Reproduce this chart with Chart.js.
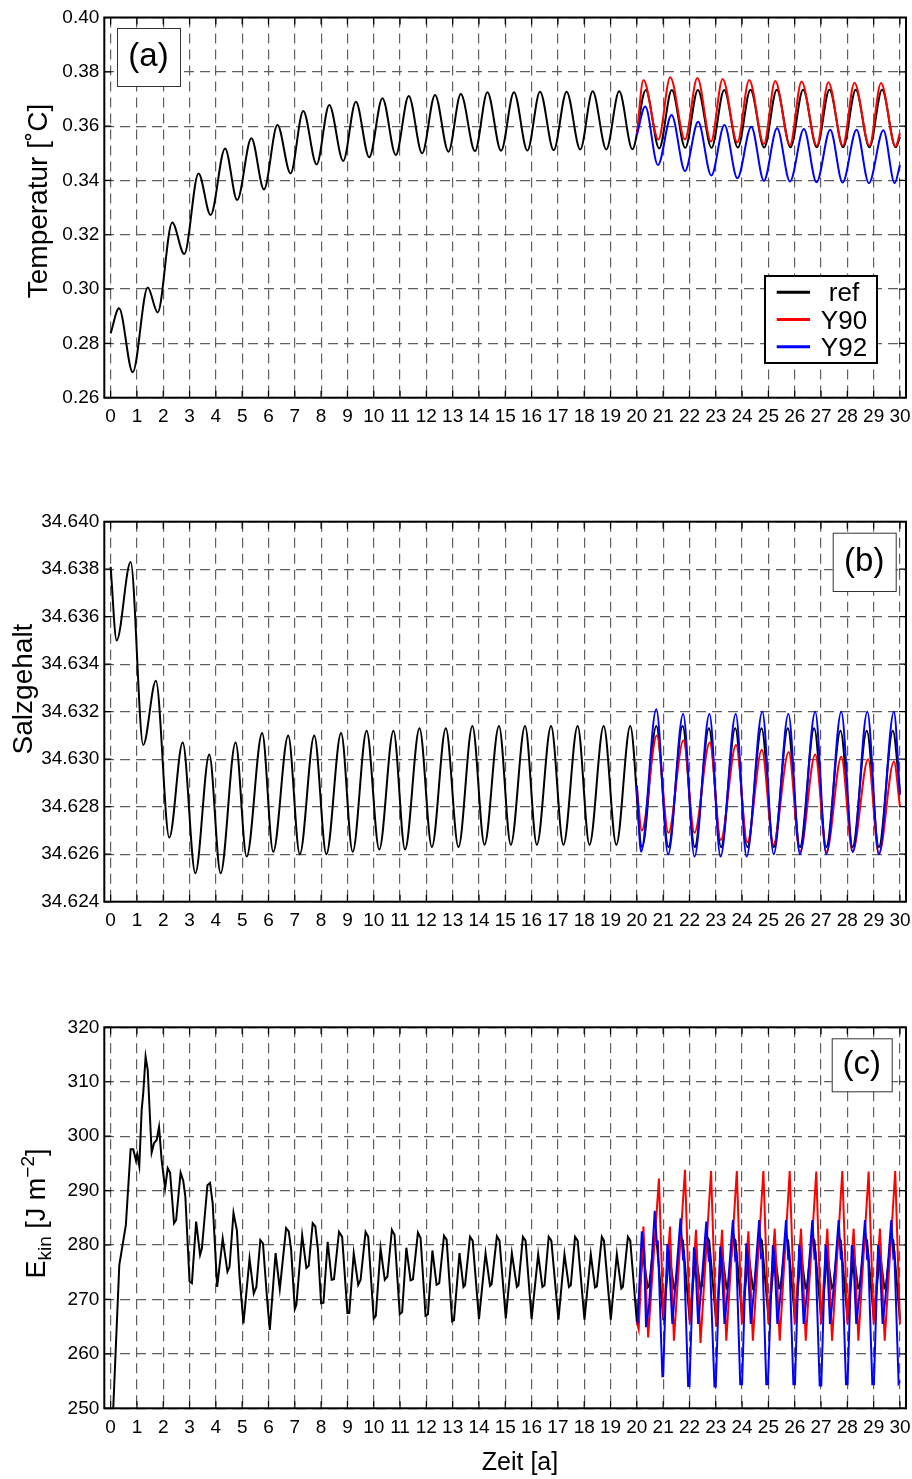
<!DOCTYPE html>
<html>
<head>
<meta charset="utf-8">
<script src="https://cdn.jsdelivr.net/npm/chart.js@4.4.0/dist/chart.umd.min.js"></script>
<style>
  body { margin: 0; background: #fff; width: 912px; height: 1479px; position: relative; overflow: hidden; }
  canvas { position: absolute; left: 0; }
</style>
</head>
<body>
<canvas id="cTemp" width="912" height="440" style="top:0"></canvas>
<canvas id="cSalt" width="912" height="440" style="top:500px"></canvas>
<canvas id="cEkin" width="912" height="469" style="top:1010px"></canvas>
<script>
const FONT = "'Liberation Sans', Arial, Helvetica, sans-serif";

// Zeitachse in Jahren
const years = [0, 1, 2, 3, 4, 5, 6, 7, 8, 9, 10, 11, 12, 13, 14, 15, 16, 17, 18, 19, 20,
  21, 22, 23, 24, 25, 26, 27, 28, 29, 30];
const tempTicks = [0.26, 0.28, 0.30, 0.32, 0.34, 0.36, 0.38, 0.40];
const saltTicks = [34.624, 34.626, 34.628, 34.630, 34.632, 34.634, 34.636, 34.638, 34.640];
const ekinTicks = [250, 260, 270, 280, 290, 300, 310, 320];

const runNames = ['ref', 'Y90', 'Y92'];
const runColors = ['#000000', '#ff0000', '#0000ff'];

// Temperatur [°C], Paare [Jahr, Wert]
const tempRef = [[0.00,0.2837],[0.32,0.2929],[0.84,0.2694],[1.41,0.3006],[1.79,0.2914],[2.34,0.3245],
  [2.80,0.3129],[3.34,0.3426],[3.80,0.3273],[4.35,0.3518],[4.81,0.3328],[5.35,0.3555],[5.83,0.3367],
  [6.34,0.3604],[6.84,0.3426],[7.32,0.3656],[7.83,0.3459],[8.31,0.3678],[8.84,0.3472],[9.32,0.3690],
  [9.83,0.3485],[10.33,0.3703],[10.84,0.3494],[11.33,0.3711],[11.84,0.3500],[12.33,0.3715],
  [12.84,0.3506],[13.31,0.3718],[13.85,0.3508],[14.32,0.3725],[14.84,0.3509],[15.33,0.3725],
  [15.84,0.3510],[16.32,0.3727],[16.84,0.3511],[17.33,0.3727],[17.85,0.3514],[18.32,0.3728],
  [18.84,0.3514],[19.33,0.3728],[19.83,0.3515],[20.34,0.3733],[20.85,0.3518],[21.33,0.3733],
  [21.84,0.3520],[22.32,0.3733],[22.84,0.3520],[23.32,0.3733],[23.84,0.3521],[24.32,0.3734],
  [24.84,0.3521],[25.32,0.3734],[25.84,0.3522],[26.32,0.3734],[26.84,0.3522],[27.32,0.3734],
  [27.84,0.3522],[28.32,0.3734],[28.84,0.3522],[29.32,0.3734],[29.84,0.3522],[30.00,0.3560]];
const tempY90 = [[20.00,0.3567],[20.25,0.3770],[20.82,0.3551],[21.27,0.3780],[21.83,0.3551],
  [22.30,0.3777],[22.82,0.3543],[23.26,0.3774],[23.82,0.3540],[24.27,0.3770],[24.83,0.3534],
  [25.26,0.3766],[25.82,0.3530],[26.26,0.3764],[26.84,0.3528],[27.28,0.3762],[27.83,0.3528],
  [28.27,0.3760],[28.84,0.3528],[29.28,0.3759],[29.83,0.3525],[30.00,0.3574]];
const tempY92 = [[20.00,0.3567],[20.32,0.3672],[20.80,0.3457],[21.32,0.3641],[21.83,0.3435],
  [22.33,0.3616],[22.83,0.3418],[23.33,0.3604],[23.82,0.3408],[24.35,0.3598],[24.83,0.3399],
  [25.33,0.3592],[25.82,0.3396],[26.35,0.3589],[26.83,0.3393],[27.35,0.3587],[27.82,0.3392],
  [28.35,0.3587],[28.82,0.3390],[29.37,0.3585],[29.80,0.3390],[30.00,0.3457]];

// Salzgehalt
const saltRef = [[0.00,34.6381],[0.23,34.6350],[0.76,34.6383],[1.24,34.6306],[1.72,34.6333],
  [2.23,34.6267],[2.74,34.6307],[3.22,34.6252],[3.75,34.6302],[4.18,34.6252],[4.75,34.6307],
  [5.17,34.6259],[5.76,34.6311],[6.18,34.6261],[6.75,34.6310],[7.19,34.6260],[7.74,34.6310],
  [8.20,34.6260],[8.76,34.6311],[9.20,34.6261],[9.73,34.6312],[10.21,34.6262],[10.75,34.6312],
  [11.19,34.6262],[11.74,34.6313],[12.21,34.6263],[12.74,34.6313],[13.22,34.6263],[13.75,34.6314],
  [14.21,34.6264],[14.76,34.6314],[15.21,34.6264],[15.75,34.6314],[16.20,34.6264],[16.74,34.6314],
  [17.21,34.6264],[17.75,34.6314],[18.20,34.6264],[18.74,34.6314],[19.22,34.6264],[19.75,34.6314],
  [20.20,34.6263],[20.74,34.6314],[21.20,34.6263],[21.74,34.6314],[22.20,34.6263],[22.74,34.6313],
  [23.20,34.6263],[23.74,34.6313],[24.20,34.6263],[24.74,34.6313],[25.20,34.6263],[25.74,34.6313],
  [26.20,34.6263],[26.74,34.6313],[27.20,34.6263],[27.74,34.6312],[28.20,34.6263],[28.74,34.6312],
  [29.20,34.6263],[29.73,34.6312],[30.00,34.6286]];
const saltY90 = [[20.00,34.6288],[20.19,34.6270],[20.76,34.6310],[21.20,34.6269],[21.77,34.6308],
  [22.19,34.6269],[22.77,34.6307],[23.19,34.6266],[23.77,34.6306],[24.20,34.6265],[24.75,34.6304],
  [25.19,34.6264],[25.77,34.6303],[26.20,34.6261],[26.78,34.6302],[27.21,34.6261],[27.77,34.6301],
  [28.20,34.6261],[28.79,34.6300],[29.20,34.6260],[29.77,34.6299],[30.00,34.6280]];
const saltY92 = [[20.00,34.6289],[20.16,34.6261],[20.74,34.6321],[21.19,34.6260],[21.76,34.6319],
  [22.19,34.6259],[22.76,34.6319],[23.18,34.6259],[23.76,34.6319],[24.17,34.6259],[24.77,34.6320],
  [25.20,34.6260],[25.76,34.6319],[26.20,34.6260],[26.78,34.6320],[27.20,34.6260],[27.77,34.6320],
  [28.21,34.6261],[28.76,34.6320],[29.20,34.6260],[29.77,34.6320],[30.00,34.6285]];

// kinetische Energie [J m^-2]
const ekinRef = [[0.00,238.5],[0.33,276.3],[0.58,283.7],[0.76,297.6],[0.86,297.6],[0.96,295.6],
  [1.01,296.7],[1.09,294.5],[1.18,304.8],[1.24,307.9],[1.33,314.6],[1.41,312.2],[1.56,297.0],
  [1.65,298.7],[1.75,299.3],[1.84,301.7],[1.94,295.6],[2.07,290.4],[2.17,294.1],[2.26,293.3],
  [2.41,284.0],[2.49,284.6],[2.66,293.3],[2.76,291.8],[2.84,288.9],[3.00,273.3],[3.09,273.0],
  [3.25,284.3],[3.40,278.2],[3.47,279.4],[3.68,291.0],[3.78,291.4],[3.88,287.6],[4.05,272.3],
  [4.26,281.2],[4.44,275.1],[4.52,276.0],[4.67,285.9],[4.80,282.7],[4.90,274.2],[5.05,265.6],
  [5.28,277.5],[5.44,271.1],[5.54,272.3],[5.69,280.9],[5.79,280.3],[5.95,269.9],[6.05,264.4],
  [6.27,278.5],[6.43,271.9],[6.67,283.1],[6.77,282.5],[6.86,279.2],[7.00,268.2],[7.06,269.0],
  [7.28,281.8],[7.44,275.8],[7.53,276.2],[7.68,284.0],[7.78,283.4],[7.88,279.2],[8.00,269.3],
  [8.09,269.4],[8.25,280.6],[8.40,273.6],[8.49,273.7],[8.68,282.4],[8.80,281.5],[9.00,267.5],
  [9.07,267.5],[9.24,278.5],[9.41,272.7],[9.50,273.6],[9.69,282.4],[9.79,281.5],[10.00,266.5],
  [10.08,267.0],[10.26,279.4],[10.42,273.6],[10.52,274.2],[10.69,282.8],[10.79,281.9],[10.99,267.3],
  [11.08,267.7],[11.24,279.5],[11.40,273.5],[11.49,273.7],[11.68,282.3],[11.78,281.3],[11.97,267.0],
  [12.06,267.3],[12.23,279.0],[12.39,272.7],[12.49,273.0],[12.67,281.7],[12.77,281.0],[12.98,266.0],
  [13.05,266.2],[13.26,278.5],[13.41,272.3],[13.47,272.6],[13.66,281.5],[13.76,280.8],[14.00,266.4],
  [14.25,278.5],[14.42,272.5],[14.48,272.8],[14.68,281.6],[14.78,280.8],[15.02,266.5],[15.25,278.5],
  [15.44,272.3],[15.50,272.6],[15.67,281.5],[15.77,280.8],[16.00,266.4],[16.25,278.3],[16.41,272.3],
  [16.49,272.6],[16.65,281.5],[16.75,280.8],[17.02,266.3],[17.25,278.3],[17.42,272.3],[17.49,272.6],
  [17.65,281.5],[17.75,280.8],[18.01,266.3],[18.25,278.3],[18.41,272.2],[18.48,272.4],[18.67,281.5],
  [18.75,280.8],[19.01,266.3],[19.24,278.3],[19.41,272.0],[19.47,272.3],[19.66,281.5],[19.75,280.8],
  [20.00,265.9],[20.23,278.6],[20.41,272.2],[20.47,272.5],[20.66,281.5],[20.75,280.8],[21.01,266.2],
  [21.23,278.5],[21.41,272.1],[21.47,272.4],[21.66,281.5],[21.75,280.8],[22.01,266.2],[22.24,278.5],
  [22.41,272.1],[22.47,272.4],[22.66,281.5],[22.75,280.8],[23.01,266.2],[23.24,278.5],[23.41,272.1],
  [23.47,272.4],[23.66,281.5],[23.75,280.8],[24.01,266.2],[24.24,278.5],[24.41,272.1],[24.47,272.4],
  [24.66,281.5],[24.75,280.8],[25.01,266.2],[25.24,278.5],[25.41,272.1],[25.47,272.4],[25.66,281.5],
  [25.75,280.8],[26.01,266.2],[26.24,278.5],[26.41,272.1],[26.47,272.4],[26.66,281.5],[26.75,280.8],
  [27.01,266.2],[27.24,278.5],[27.41,272.1],[27.47,272.4],[27.66,281.5],[27.75,280.8],[28.01,266.2],
  [28.24,278.5],[28.41,272.1],[28.47,272.4],[28.66,281.5],[28.75,280.8],[29.01,266.2],[29.24,278.5],
  [29.41,272.1],[29.47,272.4],[29.66,281.5],[29.75,280.8],[30.00,266.2]];
const ekinY90 = [[20.00,265.9],[20.07,264.5],[20.25,283.4],[20.43,263.0],[20.84,292.2],[21.01,266.5],
  [21.26,283.4],[21.41,262.4],[21.83,293.8],[22.01,265.5],[22.25,282.8],[22.42,262.0],[22.82,293.6],
  [23.01,265.0],[23.24,282.8],[23.40,262.4],[23.80,293.6],[23.99,265.5],[24.24,282.5],[24.41,262.4],
  [24.81,293.6],[25.00,265.5],[25.24,283.0],[25.43,262.4],[25.81,293.6],[26.00,265.5],[26.24,283.0],
  [26.42,262.4],[26.82,293.5],[27.00,265.5],[27.24,283.0],[27.42,262.4],[27.81,293.6],[28.00,265.5],
  [28.24,283.0],[28.42,262.4],[28.81,293.5],[29.00,265.5],[29.24,283.0],[29.42,262.4],[29.82,293.6],
  [30.00,265.5]];
const ekinY92 = [[20.00,265.9],[20.03,265.8],[20.19,282.5],[20.28,278.1],[20.35,264.9],[20.47,269.2],
  [20.68,286.3],[20.76,280.3],[20.80,280.5],[20.97,255.9],[21.00,255.9],[21.16,280.2],[21.22,277.5],
  [21.35,265.5],[21.44,271.0],[21.66,284.9],[21.75,277.8],[21.79,278.3],[21.95,254.1],[22.00,254.1],
  [22.17,279.6],[22.22,277.5],[22.33,265.5],[22.42,270.4],[22.64,284.3],[22.73,277.5],[22.77,278.0],
  [22.95,254.0],[23.00,254.0],[23.17,279.7],[23.22,277.5],[23.33,265.5],[23.42,269.8],[23.65,284.6],
  [23.74,277.5],[23.78,278.0],[23.93,254.4],[24.00,254.4],[24.16,280.3],[24.21,277.5],[24.33,265.5],
  [24.43,270.4],[24.65,284.6],[24.72,277.8],[24.77,278.2],[24.92,254.4],[24.98,254.4],[25.17,280.0],
  [25.23,277.6],[25.34,265.5],[25.45,270.4],[25.67,284.6],[25.75,277.8],[25.79,278.2],[25.95,254.4],
  [26.01,254.4],[26.17,280.0],[26.23,277.6],[26.34,265.5],[26.45,270.4],[26.67,284.6],[26.75,277.8],
  [26.79,278.2],[26.95,254.2],[27.01,254.2],[27.17,280.0],[27.23,277.6],[27.34,265.5],[27.45,270.4],
  [27.67,284.6],[27.75,277.8],[27.79,278.2],[27.95,254.4],[28.01,254.4],[28.17,280.0],[28.23,277.6],
  [28.34,265.5],[28.45,270.4],[28.67,284.6],[28.75,277.8],[28.79,278.2],[28.95,254.4],[29.01,254.4],
  [29.17,280.0],[29.23,277.6],[29.34,265.5],[29.45,270.4],[29.67,284.6],[29.75,277.8],[29.79,278.2],
  [29.95,254.6],[30.00,255.0]];

Chart.defaults.font.family = FONT;
Chart.defaults.color = '#000';

// Rahmen, innere Ticks, Panel-Kennung, Achsentitel und Legende
const deco = {
  id: 'deco',
  afterDraw(chart, args, o) {
    const { ctx, chartArea: a, scales: { x, y } } = chart;
    ctx.save();

    ctx.strokeStyle = '#000';
    ctx.lineWidth = 1.2;
    ctx.beginPath();
    x.ticks.forEach(t => {
      const px = x.getPixelForValue(t.value);
      ctx.moveTo(px, a.bottom); ctx.lineTo(px, a.bottom - 7);
      ctx.moveTo(px, a.top); ctx.lineTo(px, a.top + 7);
    });
    y.ticks.forEach(t => {
      const py = y.getPixelForValue(t.value);
      ctx.moveTo(a.left, py); ctx.lineTo(a.left + 7, py);
      ctx.moveTo(a.right, py); ctx.lineTo(a.right - 7, py);
    });
    ctx.stroke();
    ctx.lineWidth = 2;
    ctx.strokeRect(a.left, a.top, a.right - a.left, a.bottom - a.top);

    if (o.tag) {
      const [tx, ty, tw, th] = o.tag.box;
      ctx.fillStyle = '#fff';
      ctx.fillRect(tx, ty, tw, th);
      ctx.strokeStyle = '#333';
      ctx.lineWidth = 1;
      ctx.strokeRect(tx + 0.5, ty + 0.5, tw, th);
      ctx.fillStyle = '#000';
      ctx.font = '33px ' + FONT;
      ctx.textAlign = 'center';
      ctx.textBaseline = 'middle';
      ctx.fillText(o.tag.text, tx + tw / 2, ty + th / 2);
    }

    if (o.legend) {
      const [lx, ly, lw, lh] = o.legend;
      ctx.fillStyle = '#fff';
      ctx.fillRect(lx, ly, lw, lh);
      ctx.strokeStyle = '#000';
      ctx.lineWidth = 2;
      ctx.strokeRect(lx, ly, lw, lh);
      ctx.font = '26px ' + FONT;
      ctx.textAlign = 'center';
      ctx.textBaseline = 'middle';
      chart.data.datasets.forEach((ds, i) => {
        const yy = ly + 16.3 + i * 27.2;
        ctx.strokeStyle = ds.borderColor;
        ctx.lineWidth = 3;
        ctx.beginPath();
        ctx.moveTo(lx + 11.7, yy);
        ctx.lineTo(lx + 45, yy);
        ctx.stroke();
        ctx.fillStyle = '#000';
        ctx.fillText(ds.label, lx + 79, yy + 2);
      });
    }

    // Achsentitel links, um 90° gedreht; Teile mit Größe und Versatz (Index/Exponent)
    if (o.ytitle) {
      const t = o.ytitle;
      ctx.translate(t.x, t.y);
      ctx.rotate(-Math.PI / 2);
      ctx.fillStyle = '#000';
      ctx.textAlign = 'left';
      ctx.textBaseline = 'alphabetic';
      let w = 0;
      t.parts.forEach(([s, size]) => { ctx.font = size + 'px ' + FONT; w += ctx.measureText(s).width; });
      let px = -w / 2;
      t.parts.forEach(([s, size, dy]) => {
        ctx.font = size + 'px ' + FONT;
        ctx.fillText(s, px, dy);
        px += ctx.measureText(s).width;
      });
      ctx.setTransform(1, 0, 0, 1, 0, 0);
    }

    if (o.xtitle) {
      ctx.fillStyle = '#000';
      ctx.font = '25px ' + FONT;
      ctx.textAlign = 'center';
      ctx.textBaseline = 'alphabetic';
      ctx.fillText(o.xtitle.text, o.xtitle.x, o.xtitle.y);
    }
    ctx.restore();
  }
};
Chart.register(deco);

function makeChart(id, series, yTicks, yFmt, padTop, xHeight, smooth, decoOpts) {
  const grid = { color: '#5e5e5e', lineWidth: 1.2, drawTicks: false };
  const border = { display: false, dash: [10, 6] };
  return new Chart(document.getElementById(id), {
    type: 'line',
    data: {
      datasets: series.map((pts, i) => ({
        label: runNames[i],
        data: pts.map(([x, y]) => ({ x, y })),
        borderColor: runColors[i],
        borderWidth: 2,
        pointRadius: 0,
        fill: false,
        tension: 0,
        cubicInterpolationMode: smooth ? 'monotone' : 'default',
        order: 2 - i
      }))
    },
    options: {
      responsive: false,
      animation: false,
      layout: { padding: { top: padTop, right: 6, left: 0, bottom: 0 } },
      plugins: { legend: { display: false }, tooltip: { enabled: false }, deco: decoOpts },
      scales: {
        x: {
          type: 'linear', min: -0.24, max: 30.23,
          afterBuildTicks: ax => { ax.ticks = years.map(v => ({ value: v })); },
          afterFit: ax => { ax.height = xHeight; ax.paddingLeft = 0; ax.paddingRight = 0; },
          ticks: { autoSkip: false, maxRotation: 0, minRotation: 0, padding: 8,
                   font: { size: 19 }, callback: v => String(v) },
          grid, border
        },
        y: {
          min: yTicks[0], max: yTicks[yTicks.length - 1],
          afterBuildTicks: ax => { ax.ticks = yTicks.map(v => ({ value: v })); },
          afterFit: ax => { ax.width = 104.3; ax.paddingTop = 0; ax.paddingBottom = 0; },
          ticks: { padding: 5, font: { size: 19 }, callback: v => yFmt(v) },
          grid, border
        }
      }
    }
  });
}

makeChart('cTemp', [tempRef, tempY90, tempY92], tempTicks, v => v.toFixed(2), 17.5, 42.3, true, {
  tag: { text: '(a)', box: [117, 28, 63, 58] },
  legend: [765, 276, 112, 87],
  ytitle: { x: 47, y: 201, parts: [['Temperatur [\u02DAC]', 28, 0]] }
});

makeChart('cSalt', [saltRef, saltY90, saltY92], saltTicks, v => v.toFixed(3), 21.7, 38.3, true, {
  tag: { text: '(b)', box: [832.7, 32.7, 63, 58.3] },
  ytitle: { x: 32.3, y: 189, parts: [['Salzgehalt', 28, 0]] }
});

makeChart('cEkin', [ekinRef, ekinY90, ekinY92], ekinTicks, v => String(v), 17.3, 70.7, false, {
  tag: { text: '(c)', box: [831.7, 28.3, 60, 53] },
  ytitle: { x: 45, y: 203.5, parts: [['E', 27, 0], ['kin', 19, 6], [' [J m', 27, 0], ['\u22122', 19, -11], [']', 27, 0]] },
  xtitle: { text: 'Zeit [a]', x: 520, y: 460 }
});
</script>
</body>
</html>
